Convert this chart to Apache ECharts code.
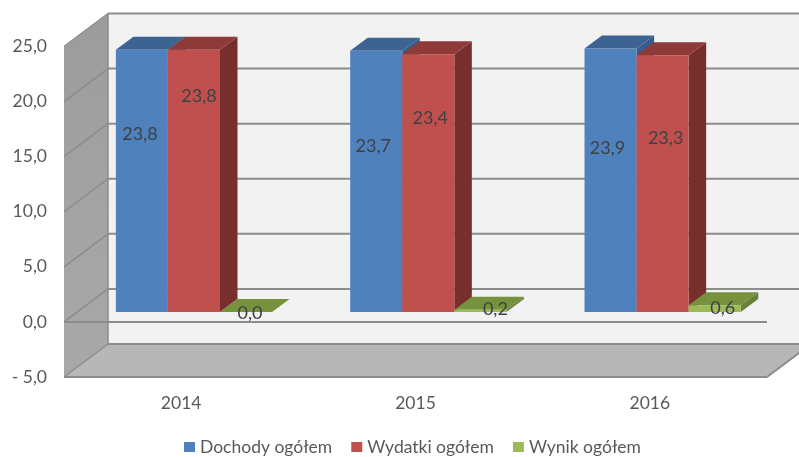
<!DOCTYPE html>
<html>
<head>
<meta charset="utf-8">
<style>html,body{margin:0;background:#fff}#main{width:799px;height:457px}</style>
<script src="https://cdn.jsdelivr.net/npm/echarts@6/dist/echarts.min.js"></script>
</head>
<body>
<div id="main"></div>
<script>
var categories = ["2014", "2015", "2016"];
var seriesNames = ["Dochody ogółem", "Wydatki ogółem", "Wynik ogółem"];
var dochody = [23.8, 23.7, 23.9];
var wydatki = [23.8, 23.4, 23.3];
var wynik = [0.0, 0.2, 0.6];
var yTicks = [-5, 0, 5, 10, 15, 20, 25];

// kolory: przod, gora, bok
var colors = [
    ["#4f81bd", "#3c6392", "#385d8a"],
    ["#c0504d", "#8d3a38", "#772f2d"],
    ["#9bbb59", "#76923c", "#67803a"]
];
// przesuniecia etykiet wzgledem srodka slupka (recznie ustawione w oryginale)
var labelShift = [
    [[-2, -47], [-3, -35], [-3, -32]],
    [[5, -85], [2, -65], [3, -45]],
    [[4, 1], [15, -2], [8, 0]]
];

var chart = echarts.init(document.getElementById("main"));
var font = "Lato";
var textGrey = "#595959";
var lineGrey = "#8c8c8c";
var wallDx = 44, wallDy = -33;     // glebokosc scian
var barOffX = 12.8, barOffY = -10; // slupki stoja w glebi
var barDx = 17.5, barDy = -13;     // glebokosc slupka

function fmt(v) {
    var s = Math.abs(v).toFixed(1).replace(".", ",");
    return v < 0 ? "- " + s : s;
}

function poly(pts, fill) {
    return {type: "polygon", shape: {points: pts}, style: {fill: fill}, silent: true};
}
function line(a, b, w) {
    return {type: "line", shape: {x1: a[0], y1: a[1], x2: b[0], y2: b[1]},
        style: {stroke: lineGrey, lineWidth: w || 2}, silent: true};
}

function renderWalls(params, api) {
    var left = api.coord([0, 0])[0] - api.size([1, 0])[0] / 2;
    var right = left + api.size([1, 0])[0] * categories.length;
    var top = api.coord([0, 25])[1];
    var bottom = api.coord([0, -5])[1];
    return {type: "group", children: [
        poly([[left + wallDx, top + wallDy], [right + wallDx, top + wallDy], [right + wallDx, bottom + wallDy], [left + wallDx, bottom + wallDy]], "#f2f2f2"),
        {type: "polygon", silent: true,
            shape: {points: [[left, top], [left + wallDx, top + wallDy], [left + wallDx, bottom + wallDy], [left, bottom]]},
            style: {fill: new echarts.graphic.LinearGradient(0, 0, 0, 1, [{offset: 0, color: "#9c9c9c"}, {offset: 1, color: "#a9a9a9"}])}},
        poly([[left, bottom], [right, bottom], [right + wallDx, bottom + wallDy], [left + wallDx, bottom + wallDy]], "#b7b7b7"),
        line([left + wallDx, top + wallDy], [left + wallDx, bottom + wallDy], 1.5),
        line([left, bottom], [right, bottom]),
        line([right, bottom], [right + wallDx, bottom + wallDy])
    ]};
}

function renderGridLine(params, api) {
    var v = api.value(0);
    var left = api.coord([0, 0])[0] - api.size([1, 0])[0] / 2;
    var right = left + api.size([1, 0])[0] * categories.length;
    var y = api.coord([0, v])[1];
    var kids = [
        line([left, y], [left + wallDx, y + wallDy], 1.5),
        line([left + wallDx, y + wallDy], [right + wallDx, y + wallDy])
    ];
    if (v === 0) kids.push(line([left, y], [right, y]));
    return {type: "group", children: kids};
}

function makeBarRender(idx) {
    return function (params, api) {
        var cat = api.value(0), val = api.value(1);
        var band = api.size([1, 0])[0];
        var w = band / 4.5;
        var x = api.coord([cat, 0])[0] - 1.5 * w + idx * w + barOffX;
        var y0 = api.coord([cat, 0])[1] + barOffY;
        var y1 = api.coord([cat, val])[1] + barOffY;
        var c = colors[idx];
        var shift = labelShift[idx][cat];
        return {type: "group", children: [
            poly([[x + w, y1], [x + w + barDx, y1 + barDy], [x + w + barDx, y0 + barDy], [x + w, y0]], c[2]),
            poly([[x, y1], [x + w, y1], [x + w + barDx, y1 + barDy], [x + barDx, y1 + barDy]], c[1]),
            poly([[x, y1], [x + w, y1], [x + w, y0], [x, y0]], c[0]),
            {type: "text", silent: true, z2: 10, style: {
                text: fmt(val),
                x: x + w / 2 + shift[0],
                y: (y0 + y1) / 2 + shift[1],
                fill: "#404040",
                font: "18px " + font,
                textAlign: "center",
                textVerticalAlign: "middle"
            }}
        ]};
    };
}

function barData(values) {
    return values.map(function (v, i) { return [i, v]; });
}

var option = {
    animation: false,
    legend: {
        data: seriesNames,
        left: 179,
        top: 433,
        itemWidth: 11,
        itemHeight: 10,
        itemGap: 19,
        icon: "rect",
        textStyle: {fontFamily: font, fontSize: 17.5, color: textGrey}
    },
    grid: {left: 64, right: 32, top: 46.5, bottom: 80},
    xAxis: {
        type: "category",
        data: categories,
        axisLine: {show: false},
        axisTick: {show: false},
        axisLabel: {margin: 17, fontFamily: font, fontSize: 17.5, color: textGrey}
    },
    yAxis: {
        type: "value",
        min: -5,
        max: 25,
        interval: 5,
        axisLine: {show: false},
        axisTick: {show: false},
        splitLine: {show: false},
        axisLabel: {margin: 17, fontFamily: font, fontSize: 17.5, color: textGrey, formatter: fmt, padding: [4, 0, 0, 0]}
    },
    series: [
        {type: "custom", silent: true, z: 1, renderItem: renderWalls, data: [[0, 0]], encode: {x: 0, y: 1}},
        {type: "custom", silent: true, z: 2, renderItem: renderGridLine, data: yTicks.map(function (t) { return [t]; })},
        {type: "custom", z: 3, name: seriesNames[0], itemStyle: {color: colors[0][0]}, renderItem: makeBarRender(0), data: barData(dochody), encode: {x: 0, y: 1}},
        {type: "custom", z: 4, name: seriesNames[1], itemStyle: {color: colors[1][0]}, renderItem: makeBarRender(1), data: barData(wydatki), encode: {x: 0, y: 1}},
        {type: "custom", z: 5, name: seriesNames[2], itemStyle: {color: colors[2][0]}, renderItem: makeBarRender(2), data: barData(wynik), encode: {x: 0, y: 1}}
    ]
};
chart.setOption(option);
</script>
</body>
</html>
